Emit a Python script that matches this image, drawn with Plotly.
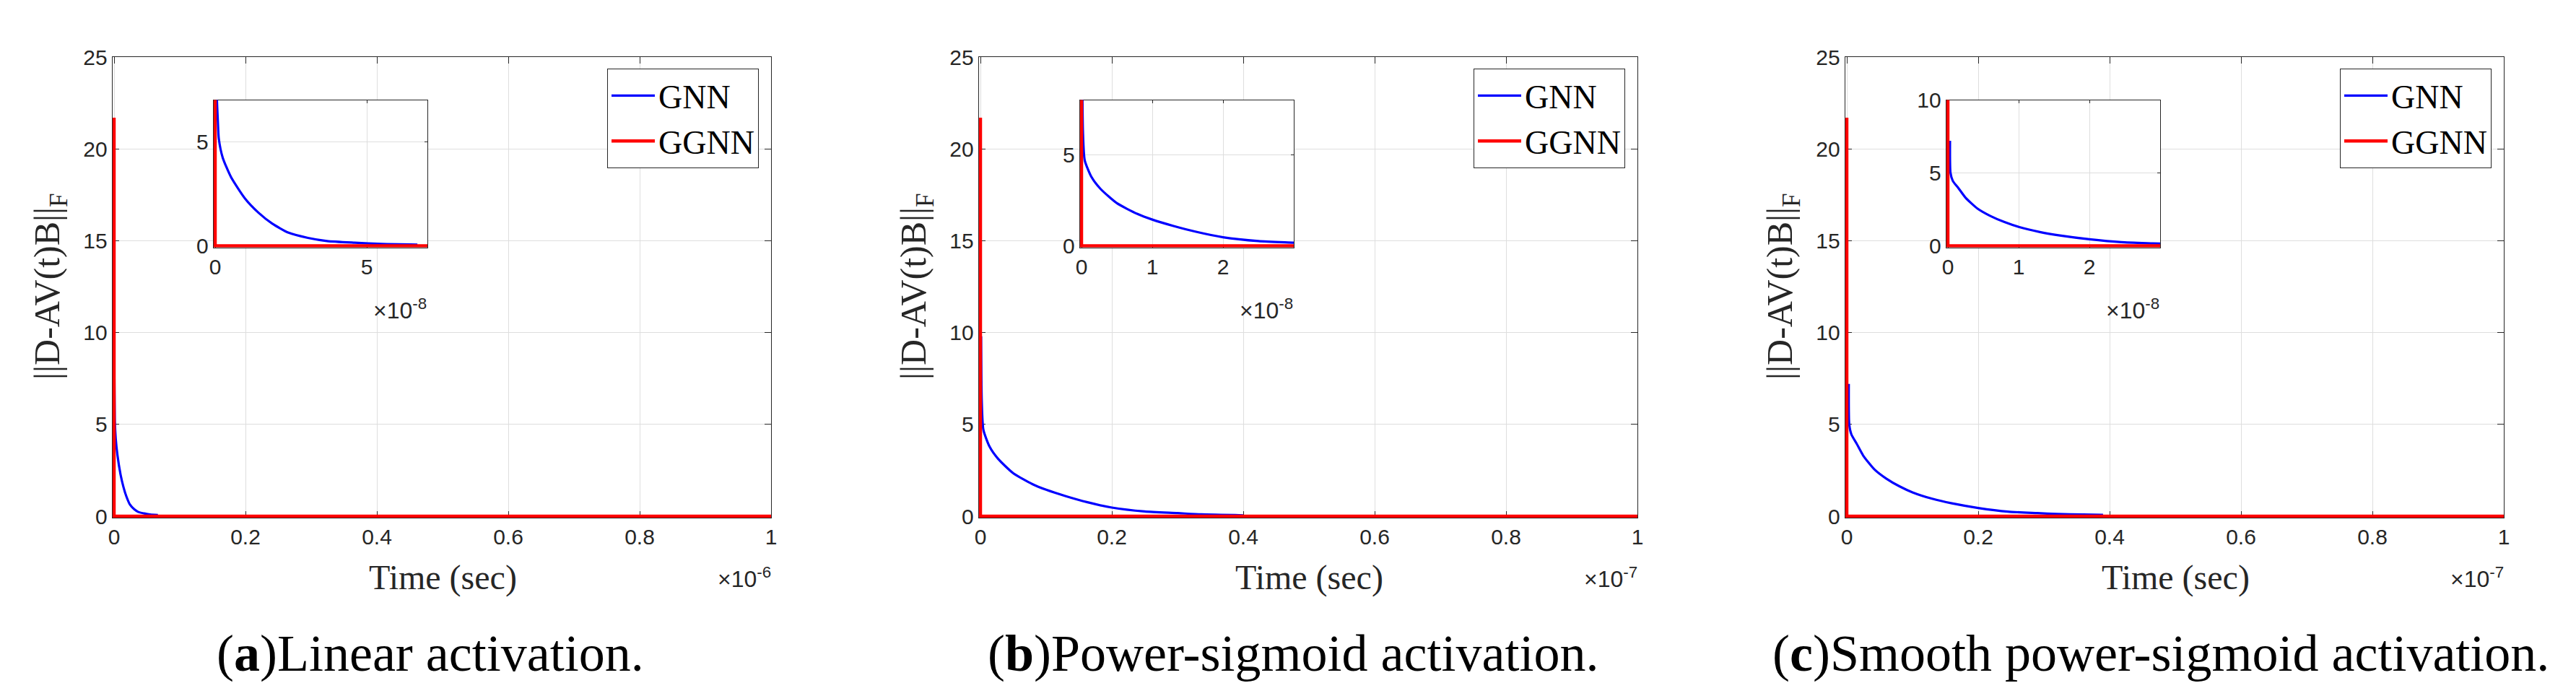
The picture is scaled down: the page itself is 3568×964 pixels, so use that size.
import plotly.graph_objects as go

W, H = 3568, 964

# ---------------- data ----------------
# time values in units of 1e-8 s
TIME_UNIT = 1e-8

gnn_a_t = [0.03, 0.05, 0.09, 0.12, 0.25, 0.52, 0.98, 1.43, 1.88, 2.42, 3.06, 3.69, 4.6, 5.5, 6.67]
gnn_a_v = [9.2, 7.3, 5.95, 5.15, 4.23, 3.31, 2.28, 1.59, 1.07, 0.63, 0.38, 0.23, 0.15, 0.09, 0.06]

gnn_b_t = [0.01, 0.02, 0.045, 0.14, 0.27, 0.5, 0.79, 1.0, 1.3, 1.63, 2.0, 2.5, 3.0, 3.36, 4.0]
gnn_b_v = [9.8, 6.3, 4.7, 3.78, 3.12, 2.34, 1.75, 1.44, 1.09, 0.76, 0.47, 0.26, 0.17, 0.10, 0.05]

gnn_c_t = [0.03, 0.037, 0.07, 0.15, 0.25, 0.42, 0.6, 0.8, 1.0, 1.3, 1.6, 2.0, 2.45, 2.9, 3.2, 3.6, 3.9]
gnn_c_v = [7.2, 5.0, 4.45, 3.95, 3.3, 2.55, 2.05, 1.63, 1.3, 0.95, 0.7, 0.45, 0.25, 0.17, 0.12, 0.09, 0.07]

ggnn_peak = 21.7
ggnn_v = [ggnn_peak, 0.0, 0.0]

time_end = [1e-6, 1e-7, 1e-7]           # full x range of each main panel
main_xtick_vals = [0, 0.2, 0.4, 0.6, 0.8, 1.0]   # in units of the panel exponent
main_xtick_text = ["0", "0.2", "0.4", "0.6", "0.8", "1"]
main_exponents = ["-6", "-7", "-7"]
main_ytick_vals = [0, 5, 10, 15, 20, 25]
main_ytick_text = ["0", "5", "10", "15", "20", "25"]

inset_xmax = [7, 3, 3]                   # in units of 1e-8
inset_ymax = [7, 8, 10]
inset_xtick_vals = [[0, 5], [0, 1, 2], [0, 1, 2]]
inset_ytick_vals = [[0, 5], [0, 5], [0, 5, 10]]
inset_exponent = "-8"

captions_letter = ["a", "b", "c"]
captions_text = ["Linear activation.", "Power-sigmoid activation.", "Smooth power-sigmoid activation."]
series_names = ["GNN", "GGNN"]
ylabel = "||D-AV(t)B||<sub>F</sub>"
xlabel = "Time (sec)"

# ---------------- layout geometry (pixels) ----------------
main_left = [150, 1350, 2550]
main_w = 910
main_top, main_bottom = 71, 707
inset_dx, inset_w = 140, 294
inset_top, inset_bottom = 130.5, 332.5
caption_cx = [588, 1783, 2985]
PAD = 2.3

BLUE, RED = "#0000ff", "#ff0000"
AX = "#262626"
GRID = "#dedede"
SANS = "Liberation Sans"
SERIF = "Liberation Serif"
TICK_SIZE = 30

gnn_t = [gnn_a_t, gnn_b_t, gnn_c_t]
gnn_v = [gnn_a_v, gnn_b_v, gnn_c_v]

fig = go.Figure()
layout = dict(
    width=W, height=H, margin=dict(l=0, r=0, t=0, b=0),
    paper_bgcolor="white", plot_bgcolor="white",
    showlegend=True, shapes=[], annotations=[],
)

def px_x(p):
    return p / W

def px_y(p):
    return 1 - p / H

legend_names = ["legend", "legend2", "legend3"]

def axis_style(ticklen):
    return dict(
        ticks="inside", ticklen=ticklen, tickcolor=AX, tickwidth=1,
        showline=True, linecolor=AX, linewidth=1, mirror="ticks",
        showgrid=True, gridcolor=GRID, gridwidth=1, zeroline=False,
        tickfont=dict(family=SANS, size=TICK_SIZE, color=AX), layer="below traces",
        automargin=False, fixedrange=True,
    )

for i in range(3):
    L = main_left[i]
    R = L + main_w
    xmax = time_end[i]
    xs = f"x{'' if i == 0 else i + 1}"
    ys = f"y{'' if i == 0 else i + 1}"
    xk = f"xaxis{'' if i == 0 else i + 1}"
    yk = f"yaxis{'' if i == 0 else i + 1}"
    t_sec = [v * TIME_UNIT for v in gnn_t[i]]

    # main traces
    fig.add_trace(go.Scatter(x=t_sec, y=gnn_v[i], mode="lines", name=series_names[0],
                             line=dict(color=BLUE, width=3.2, shape="spline", smoothing=0.6),
                             xaxis=xs, yaxis=ys, legend=legend_names[i]))
    fig.add_trace(go.Scatter(x=[0, 0, xmax], y=ggnn_v, mode="lines", name=series_names[1],
                             line=dict(color=RED, width=4.5),
                             xaxis=xs, yaxis=ys, legend=legend_names[i]))

    layout[xk] = dict(
        domain=[px_x(L - PAD), px_x(R)], range=[-PAD / (R - L) * xmax, xmax],
        anchor=ys, tickvals=[v * xmax for v in main_xtick_vals], ticktext=main_xtick_text,
        **axis_style(9),
    )
    layout[yk] = dict(
        domain=[px_y(main_bottom + PAD), px_y(main_top)],
        range=[-PAD / (main_bottom - main_top) * 25, 25],
        anchor=xs, tickvals=main_ytick_vals, ticktext=main_ytick_text,
        **axis_style(9),
    )

    # legend
    layout[legend_names[i]] = dict(
        x=px_x(R - 17), y=px_y(87), xanchor="right", yanchor="top",
        bgcolor="white", bordercolor=AX, borderwidth=1,
        font=dict(family=SERIF, size=46, color="black"),
        itemwidth=60, tracegroupgap=0,
    )

    # labels
    layout["annotations"].append(dict(
        text=xlabel, xref="paper", yref="paper", x=px_x((L + R) / 2), y=px_y(792),
        xanchor="center", yanchor="middle", showarrow=False,
        font=dict(family=SERIF, size=48, color=AX)))
    layout["annotations"].append(dict(
        text=f"\u00d710<sup>{main_exponents[i]}</sup>", xref="paper", yref="paper",
        x=px_x(R + 2), y=px_y(792), xanchor="right", yanchor="middle", showarrow=False,
        font=dict(family=SANS, size=32, color=AX)))
    layout["annotations"].append(dict(
        text=ylabel, xref="paper", yref="paper", textangle=-90,
        x=px_x(L - 89), y=px_y((main_top + main_bottom) / 2),
        xanchor="center", yanchor="middle", showarrow=False,
        font=dict(family=SERIF, size=50, color=AX)))
    layout["annotations"].append(dict(
        text=f"(<b>{captions_letter[i]}</b>){captions_text[i]}", xref="paper", yref="paper",
        x=px_x(caption_cx[i]), y=px_y(897), xanchor="center", yanchor="middle",
        showarrow=False, font=dict(family=SERIF, size=72, color="black")))

    # ---------------- inset ----------------
    j = i + 4
    IL = L + inset_dx
    IR = IL + inset_w
    ixs, iys = f"x{j}", f"y{j}"
    ixmax = inset_xmax[i] * TIME_UNIT
    iymax = inset_ymax[i]
    fig.add_trace(go.Scatter(x=t_sec, y=gnn_v[i], mode="lines", showlegend=False,
                             line=dict(color=BLUE, width=3.2, shape="spline", smoothing=0.6),
                             xaxis=ixs, yaxis=iys))
    fig.add_trace(go.Scatter(x=[0, 0, xmax], y=ggnn_v, mode="lines", showlegend=False,
                             line=dict(color=RED, width=4.5),
                             xaxis=ixs, yaxis=iys))
    ix0 = -PAD / (IR - IL) * ixmax
    iy0 = -PAD / (inset_bottom - inset_top) * iymax
    layout[f"xaxis{j}"] = dict(
        domain=[px_x(IL - PAD), px_x(IR)], range=[ix0, ixmax], anchor=iys,
        tickvals=[v * TIME_UNIT for v in inset_xtick_vals[i]],
        ticktext=[str(v) for v in inset_xtick_vals[i]],
        **axis_style(4),
    )
    layout[f"yaxis{j}"] = dict(
        domain=[px_y(inset_bottom + PAD), px_y(inset_top)], range=[iy0, iymax], anchor=ixs,
        tickvals=inset_ytick_vals[i], ticktext=[str(v) for v in inset_ytick_vals[i]],
        **axis_style(4),
    )
    layout["shapes"].append(dict(
        type="rect", xref=ixs, yref=iys, x0=ix0, x1=ixmax, y0=iy0, y1=iymax,
        fillcolor="white", line=dict(width=0), layer="below"))
    layout["annotations"].append(dict(
        text=f"\u00d710<sup>{inset_exponent}</sup>", xref="paper", yref="paper",
        x=px_x(IR + 1), y=px_y(420), xanchor="right", yanchor="middle", showarrow=False,
        font=dict(family=SANS, size=32, color=AX)))

fig.update_layout(**layout)
fig.write_html("out.html")
